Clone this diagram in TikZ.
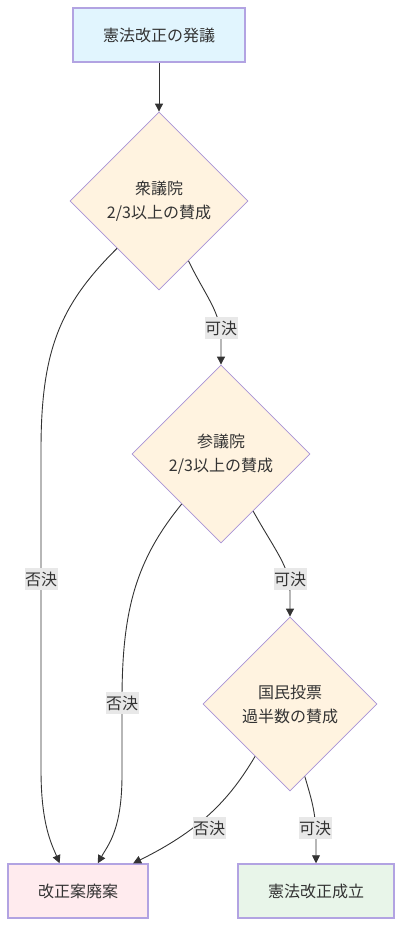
\documentclass[tikz,border=0pt]{standalone}
\usepackage{fontspec}
\setmainfont{Noto Sans CJK JP}
\usetikzlibrary{shapes.geometric,arrows.meta,calc}
\definecolor{txt}{HTML}{333333}
\definecolor{edge}{HTML}{333333}
\definecolor{bstroke}{HTML}{B2A3E2}
\definecolor{dstroke}{HTML}{A893D6}
\definecolor{fblue}{HTML}{E1F5FE}
\definecolor{forange}{HTML}{FFF3E0}
\definecolor{fpink}{HTML}{FFEBEE}
\definecolor{fgreen}{HTML}{E8F5E9}
\definecolor{lblbg}{HTML}{E8E8E8}
\tikzset{
  base/.style={font=\fontsize{16}{24}\selectfont, text=txt, align=center},
  boxnode/.style={base, rectangle, draw=bstroke, line width=1.5pt, minimum height=54pt, inner sep=0pt},
  decision/.style={base, diamond, draw=dstroke, line width=0.8pt, fill=forange, shape aspect=1, inner sep=0pt},
  lbl/.style={base, fill=lblbg, inner xsep=0.5pt, inner ysep=0pt, minimum height=22pt},
  conn/.style={draw=edge, line width=0.9pt, -{Triangle[length=8pt,width=8pt]}},
}
\begin{document}
\begin{tikzpicture}[x=1pt,y=-1pt]
\useasboundingbox (0,0) rectangle (402,927);
\node[boxnode, fill=fblue, minimum width=172pt] (top) at (159,35) {憲法改正の発議};
\node[decision, minimum width=178pt, minimum height=178pt] (d1) at (159,201) {衆議院\\2/3以上の賛成};
\node[decision, minimum width=178pt, minimum height=178pt] (d2) at (221,454) {参議院\\2/3以上の賛成};
\node[decision, minimum width=174pt, minimum height=174pt] (d3) at (290,704) {国民投票\\過半数の賛成};
\node[boxnode, fill=fpink, minimum width=140pt] (rej) at (78,891) {改正案廃案};
\node[boxnode, fill=fgreen, minimum width=156pt] (ok) at (316,891) {憲法改正成立};

\coordinate (d1r) at ($(d1.south)!0.33!(d1.east)$);
\coordinate (d1l) at ($(d1.west)!0.53!(d1.south)$);
\coordinate (d2r) at ($(d2.south)!0.36!(d2.east)$);
\coordinate (d2l) at ($(d2.west)!0.56!(d2.south)$);
\coordinate (d3r) at ($(d3.south)!0.17!(d3.east)$);
\coordinate (d3l) at ($(d3.west)!0.6!(d3.south)$);
\coordinate (rejA) at ($(rej.north west)!0.37!(rej.north east)$);
\coordinate (rejB) at ($(rej.north west)!0.64!(rej.north east)$);
\coordinate (rejC) at ($(rej.north west)!0.89!(rej.north east)$);

\draw[conn] (top.south) -- (d1.north);
\draw[conn] (d1r) .. controls (206,297) and (221,312) .. (221,340) -- (d2.north);
\draw[conn] (d2r) .. controls (276,552) and (290,567) .. (290,592) -- (d3.north);
\draw[conn] (d3r) .. controls (311,798) and (316,812) .. (316,838) -- (ok.north);
\draw[conn] (d1l) .. controls (60,305) and (41,350) .. (41,450) -- (41,770) .. controls (41,825) and (52,845) .. (rejA);
\draw[conn] (d2l) .. controls (136,560) and (122,610) .. (122,700) -- (122,775) .. controls (122,830) and (108,845) .. (rejB);
\draw[conn] (d3l) .. controls (232,795) and (205,828) .. (rejC);

\node[lbl] (l1) at (221,328) {可決};
\node[lbl] (l2) at (290,579) {可決};
\node[lbl] (l3) at (315,828) {可決};
\node[lbl] (n1) at (41,579) {否決};
\node[lbl] (n2) at (122,703) {否決};
\node[lbl] (n3) at (209,828) {否決};
\end{tikzpicture}
\end{document}
